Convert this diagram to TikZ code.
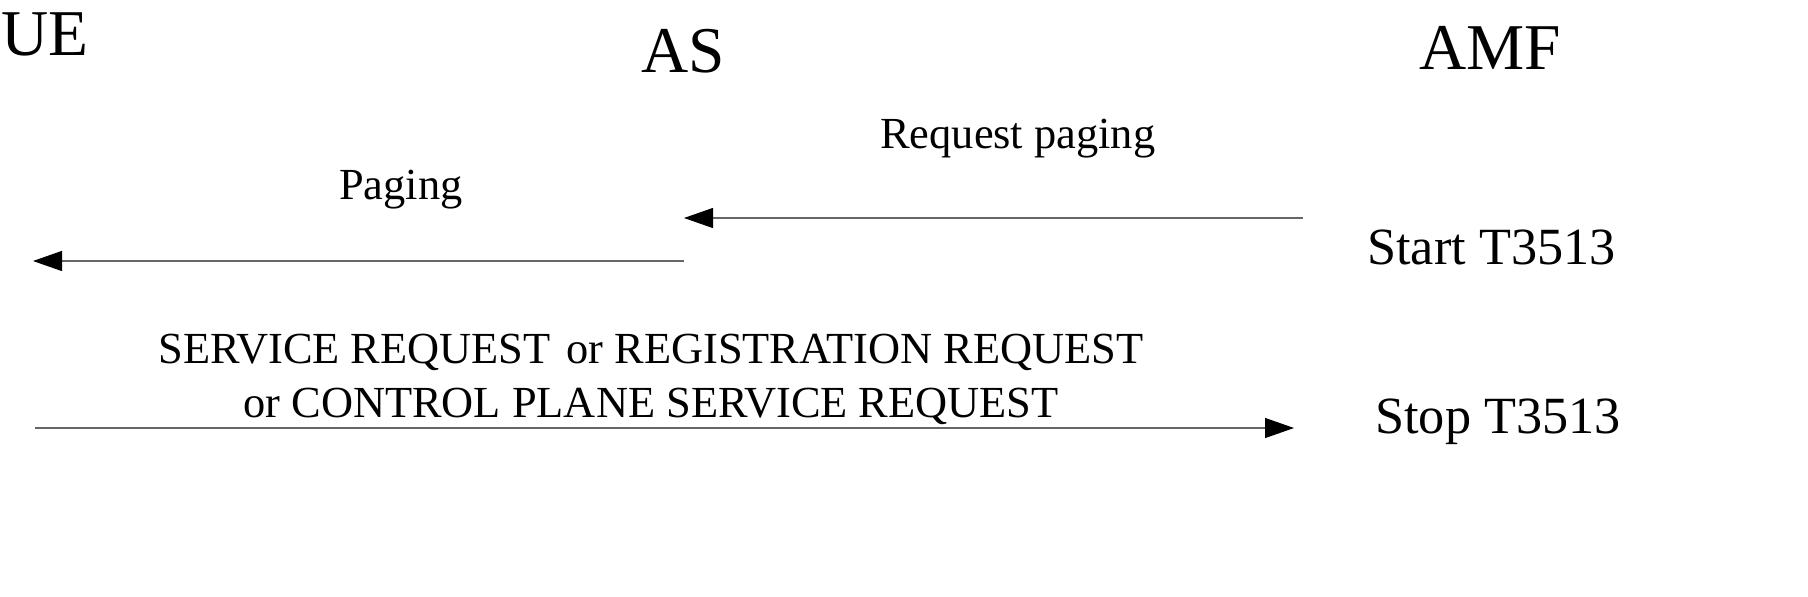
\documentclass[tikz,border=0pt]{standalone}
\usepackage{fontspec}
\setmainfont{Liberation Serif}
\usetikzlibrary{arrows.meta}
\tikzset{
  title/.style={anchor=base west, inner sep=0pt, font=\fontsize{49}{59}\selectfont},
  msglabel/.style={anchor=base west, inner sep=0pt, font=\fontsize{33.3}{40}\selectfont},
  timer/.style={anchor=base west, inner sep=0pt, font=\fontsize{39.2}{47}\selectfont},
  msg/.style={draw=black!60, line width=0.9pt, -{Triangle[length=21.75pt, width=15pt, color=black]}}
}
\begin{document}
\begin{tikzpicture}[x=0.75pt, y=-0.75pt]
\useasboundingbox (0,0) rectangle (1808,596);
% lifeline titles
\node[title] (ue) at (1,55) {UE};
\node[title] (as) at (641,72) {AS};
\node[title] (amf) at (1419,69) {AMF};
% labels
\node[msglabel] (reqpag) at (880,148) {Request paging};
\node[msglabel] (pag) at (339,199) {Paging};
\node[msglabel, anchor=base] (svc1) at (651,363) {SERVICE REQUEST\hspace{3.5pt} or REGISTRATION REQUEST};
\node[msglabel, anchor=base] (svc2) at (651,417) {or CONTROL PLANE SERVICE REQUEST};
% timers
\node[timer] (start) at (1367,264) {Start T3513};
\node[timer] (stop) at (1375,433) {Stop T3513};
% message end points
\coordinate (amfA) at (1303,218);
\coordinate (asA) at (684,218);
\coordinate (asB) at (684,261);
\coordinate (ueB) at (33,261);
\coordinate (ueC) at (35,428);
\coordinate (amfC) at (1294,428);
% messages
\draw[msg] (amfA) -- (asA);
\draw[msg] (asB) -- (ueB);
\draw[msg] (ueC) -- (amfC);
\end{tikzpicture}
\end{document}
